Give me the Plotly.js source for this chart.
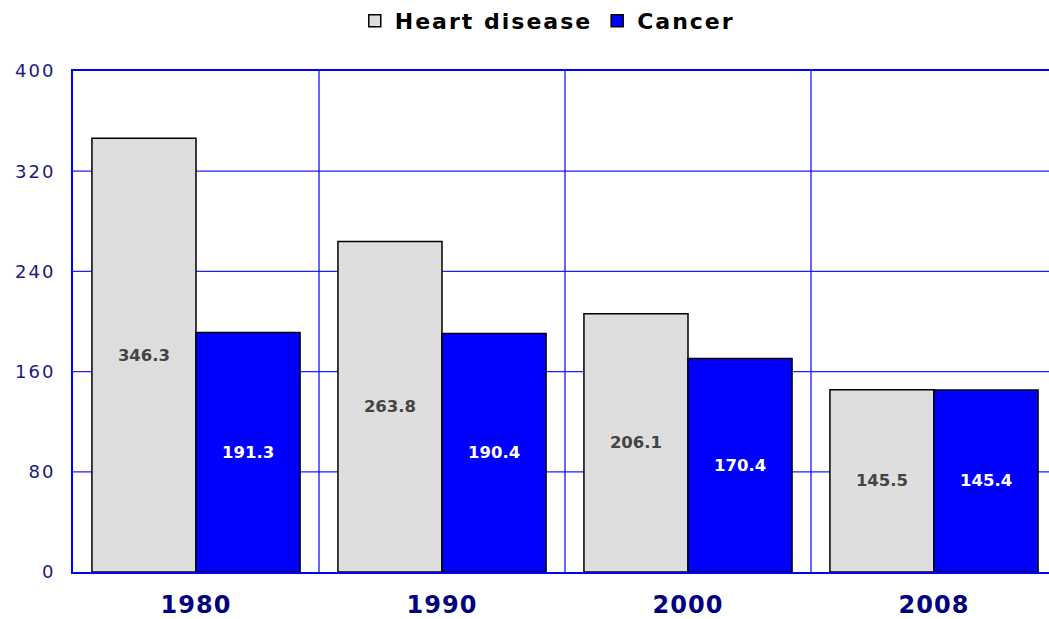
<!DOCTYPE html>
<html><head><meta charset="utf-8">
<script src="https://cdn.plot.ly/plotly-3.0.1.min.js"></script>
<style>
html,body{margin:0;padding:0;overflow:hidden;background:#fff}
.legendtext{letter-spacing:2px}
.xtick text{letter-spacing:1px}
.ytick text{letter-spacing:2px}
</style>
</head><body>
<div id="chart"></div>
<script>
const years = ['1980', '1990', '2000', '2008'];
const heartDisease = [346.3, 263.8, 206.1, 145.5];
const cancer = [191.3, 190.4, 170.4, 145.4];
const yTicks = [0, 80, 160, 240, 320, 400];

const traces = [
  {
    type: 'bar', name: 'Heart disease', x: years, y: heartDisease,
    marker: {color: '#dedede', line: {color: '#000000', width: 1.5}},
    text: heartDisease.map(v => v.toFixed(1)), textposition: 'inside',
    insidetextanchor: 'middle', textangle: 0,
    textfont: {family: 'DejaVu Sans', size: 16.5, color: '#444444', weight: 'bold'},
    hoverinfo: 'none'
  },
  {
    type: 'bar', name: 'Cancer', x: years, y: cancer,
    marker: {color: '#0000ff', line: {color: '#000000', width: 1.5}},
    text: cancer.map(v => v.toFixed(1)), textposition: 'inside',
    insidetextanchor: 'middle', textangle: 0,
    textfont: {family: 'DejaVu Sans', size: 16.5, color: '#ffffff', weight: 'bold'},
    hoverinfo: 'none'
  }
];

// grid lines: horizontal at y ticks, vertical at category boundaries
const gridShapes = [];
yTicks.slice(1, -1).forEach(v => gridShapes.push({
  type: 'line', xref: 'paper', x0: 0, x1: 1, yref: 'y', y0: v, y1: v,
  line: {color: '#1e1eff', width: 1.2}, layer: 'below'
}));
years.slice(0, -1).forEach((_, i) => gridShapes.push({
  type: 'line', xref: 'x', x0: i + 0.5, x1: i + 0.5, yref: 'paper', y0: 0, y1: 1,
  line: {color: '#0000ff', width: 1.2}, layer: 'below'
}));

const layout = {
  width: 1058, height: 619,
  margin: {l: 73, r: 1, t: 71, b: 47},
  paper_bgcolor: '#ffffff', plot_bgcolor: '#ffffff',
  barmode: 'group', bargap: 0.154, bargroupgap: 0,
  showlegend: true,
  legend: {
    orientation: 'h', x: 0.482, xanchor: 'center', y: 1.0, yref: 'container', yanchor: 'top',
    font: {family: 'DejaVu Sans', size: 22, color: '#000000', weight: 'bold'},
    itemwidth: 30, traceorder: 'normal'
  },
  shapes: gridShapes,
  xaxis: {
    type: 'category', showgrid: false,
    ticks: '', showline: true, linecolor: '#0000ff', linewidth: 2, mirror: true,
    tickfont: {family: 'DejaVu Sans', size: 24, color: '#000080', weight: 'bold'},
    ticklabelstandoff: 10, fixedrange: true
  },
  yaxis: {
    range: [0, 400], tickvals: yTicks, ticktext: yTicks.map(String),
    showgrid: false, zeroline: false,
    showline: true, linecolor: '#0000ff', linewidth: 2, mirror: true, ticks: '',
    tickfont: {family: 'DejaVu Sans', size: 18, color: '#1a1a80'},
    ticklabelstandoff: 12, fixedrange: true
  }
};

Plotly.newPlot('chart', traces, layout, {displayModeBar: false, staticPlot: true});
</script>
</body></html>
